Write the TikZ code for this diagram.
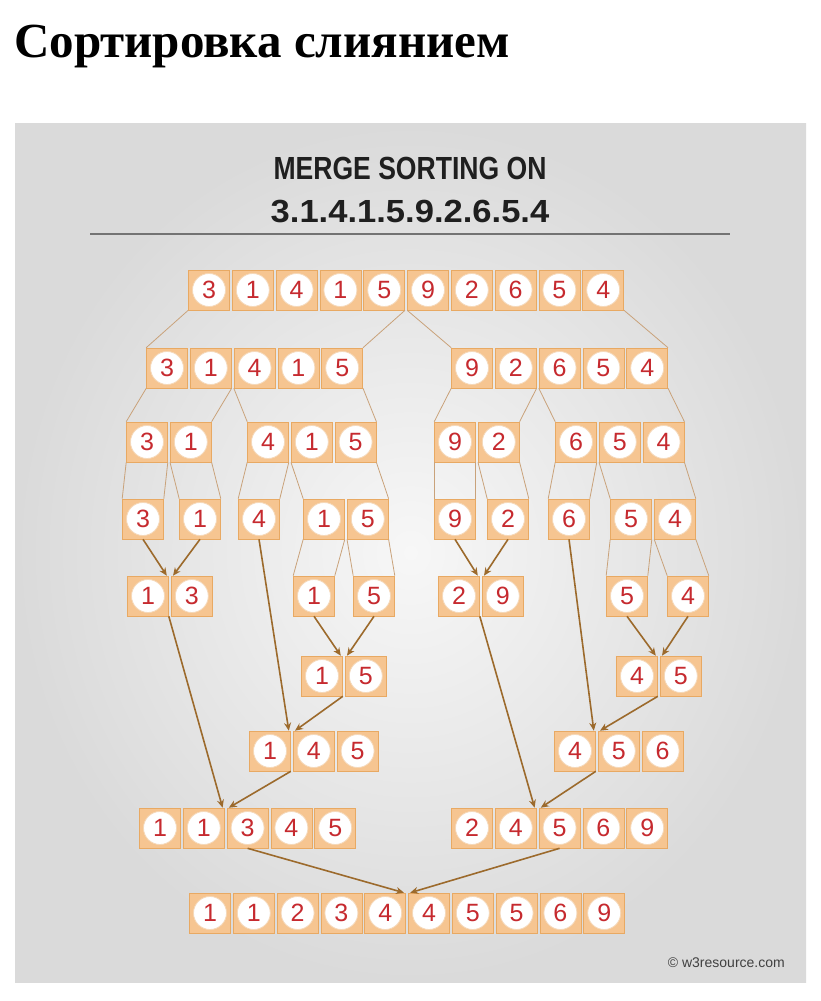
\documentclass[tikz,border=0pt]{standalone}
\usepackage{graphicx}
\usepackage{fontspec}
\setmainfont{Liberation Serif}
\setsansfont{Liberation Sans}
\usetikzlibrary{arrows.meta}
\definecolor{cellorange}{HTML}{F6C591}
\definecolor{celledge}{HTML}{E8A963}
\definecolor{digitred}{HTML}{C62A2F}
\definecolor{splittan}{HTML}{C9A27A}
\definecolor{mergebrown}{HTML}{9C6A2C}
\definecolor{panelouter}{HTML}{DADADA}
\definecolor{panelinner}{HTML}{F7F7F7}

\begin{document}
\begin{tikzpicture}[
  x=1pt, y=-1pt,
  numcell/.style={draw=celledge, fill=cellorange, line width=0.6pt, minimum width=41pt, minimum height=40pt, inner sep=0pt,
    font=\sffamily\fontsize{25}{25}\selectfont, text=digitred,
    path picture={\fill[white, draw=celledge!45, line width=0.8pt] (path picture bounding box.center) circle[radius=16.5pt];}},
  split/.style={draw=splittan, line width=0.8pt},
  merge/.style={-{Stealth[length=8pt,width=7pt]}, draw=mergebrown, line width=1.6pt},
  heading/.style={font=\bfseries\fontsize{49}{49}\selectfont, anchor=base west, inner sep=0pt},
  boardtitle/.style={font=\sffamily\bfseries\fontsize{32}{32}\selectfont, text=black!88, inner sep=0pt},
  creditmark/.style={font=\sffamily\fontsize{14}{14}\selectfont, text=black!75, inner sep=0pt}
]
\useasboundingbox (0,0) rectangle (820,1001);
\fill[white] (0,0) rectangle (820,1001);
\node[heading] (heading) at (14,57) {Сортировка слиянием};

% board
\shade[inner color=panelinner, outer color=panelouter] (15,123) rectangle (806,982);
\node[boardtitle] (titleone) at (410,168) {\scalebox{0.83}[1]{MERGE SORTING ON}};
\node[boardtitle] (titletwo) at (410,212) {\scalebox{1.08}[1]{3.1.4.1.5.9.2.6.5.4}};
\coordinate (rulestart) at (90,234);
\coordinate (ruleend) at (730,234);
\draw[draw=black!55, line width=1.6pt] (rulestart) -- (ruleend);
\node[creditmark, anchor=east] (credit) at (785,963) {© w3resource.com};

% rows of cells
\foreach \x/\d [count=\i] in {209/3,252.8/1,296.6/4,340.4/1,384.2/5,428/9,471.8/2,515.6/6,559.4/5,603.2/4}
  \node[numcell] (r1c\i) at (\x,290) {\d};
\foreach \x/\d [count=\i] in {167/3,210.8/1,254.6/4,298.4/1,342.2/5,472/9,515.8/2,559.6/6,603.4/5,647.2/4}
  \node[numcell] (r2c\i) at (\x,368) {\d};
\foreach \x/\d [count=\i] in {147/3,190.8/1,268/4,311.8/1,355.6/5,455/9,498.8/2,576/6,619.8/5,663.6/4}
  \node[numcell] (r3c\i) at (\x,442) {\d};
\foreach \x/\d [count=\i] in {143/3,200/1,259/4,324/1,367.8/5,455/9,508/2,569/6,631/5,675/4}
  \node[numcell] (r4c\i) at (\x,519) {\d};
\foreach \x/\d [count=\i] in {148/1,191.8/3,314/1,374/5,459/2,502.8/9,627/5,688/4}
  \node[numcell] (r5c\i) at (\x,596) {\d};
\foreach \x/\d [count=\i] in {322/1,365.8/5,637/4,680.8/5}
  \node[numcell] (r6c\i) at (\x,676) {\d};
\foreach \x/\d [count=\i] in {270/1,313.8/4,357.6/5,575/4,618.8/5,662.6/6}
  \node[numcell] (r7c\i) at (\x,751) {\d};
\foreach \x/\d [count=\i] in {160/1,203.8/1,247.6/3,291.4/4,335.2/5,472/2,515.8/4,559.6/5,603.4/6,647.2/9}
  \node[numcell] (r8c\i) at (\x,828) {\d};
\foreach \x/\d [count=\i] in {210/1,253.8/1,297.6/2,341.4/3,385.2/4,429/4,472.8/5,516.6/5,560.4/6,604.2/9}
  \node[numcell] (r9c\i) at (\x,913) {\d};

% splitting
\foreach \a/\b in {r1c1.south west/r2c1.north west, r1c5.south east/r2c5.north east,
    r1c6.south west/r2c6.north west, r1c10.south east/r2c10.north east,
    r2c1.south west/r3c1.north west, r2c2.south east/r3c2.north east,
    r2c3.south west/r3c3.north west, r2c5.south east/r3c5.north east,
    r2c6.south west/r3c6.north west, r2c7.south east/r3c7.north east,
    r2c8.south west/r3c8.north west, r2c10.south east/r3c10.north east,
    r3c1.south west/r4c1.north west, r3c1.south east/r4c1.north east,
    r3c2.south west/r4c2.north west, r3c2.south east/r4c2.north east,
    r3c3.south west/r4c3.north west, r3c3.south east/r4c3.north east,
    r3c4.south west/r4c4.north west, r3c5.south east/r4c5.north east,
    r3c6.south west/r4c6.north west, r3c6.south east/r4c6.north east,
    r3c7.south west/r4c7.north west, r3c7.south east/r4c7.north east,
    r3c8.south west/r4c8.north west, r3c8.south east/r4c8.north east,
    r3c9.south west/r4c9.north west, r3c10.south east/r4c10.north east,
    r4c4.south west/r5c3.north west, r4c4.south east/r5c3.north east,
    r4c5.south west/r5c4.north west, r4c5.south east/r5c4.north east,
    r4c9.south west/r5c7.north west, r4c9.south east/r5c7.north east,
    r4c10.south west/r5c8.north west, r4c10.south east/r5c8.north east}
  \draw[split] (\a) -- (\b);

% merging
\draw[merge] (r4c1.south) -- ([xshift=-2pt]r5c1.north east);
\draw[merge] (r4c2.south) -- ([xshift=2pt]r5c2.north west);
\draw[merge] (r4c6.south) -- ([xshift=-2pt]r5c5.north east);
\draw[merge] (r4c7.south) -- ([xshift=2pt]r5c6.north west);
\draw[merge] (r5c3.south) -- ([xshift=-2pt]r6c1.north east);
\draw[merge] (r5c4.south) -- ([xshift=2pt]r6c2.north west);
\draw[merge] (r5c7.south) -- ([xshift=-2pt]r6c3.north east);
\draw[merge] (r5c8.south) -- ([xshift=2pt]r6c4.north west);
\draw[merge] (r4c3.south) -- ([xshift=-2pt]r7c1.north east);
\draw[merge] (r6c1.south east) -- ([xshift=2pt]r7c2.north west);
\draw[merge] (r4c8.south) -- ([xshift=-2pt]r7c4.north east);
\draw[merge] (r6c3.south east) -- ([xshift=2pt]r7c5.north west);
\draw[merge] (r5c1.south east) -- ([xshift=-2pt]r8c2.north east);
\draw[merge] (r7c1.south east) -- ([xshift=2pt]r8c3.north west);
\draw[merge] (r5c5.south east) -- ([xshift=-2pt]r8c7.north east);
\draw[merge] (r7c4.south east) -- ([xshift=2pt]r8c8.north west);
\draw[merge] (r8c3.south) -- ([xshift=-2pt]r9c5.north east);
\draw[merge] (r8c8.south) -- ([xshift=2pt]r9c6.north west);
\end{tikzpicture}
\end{document}
